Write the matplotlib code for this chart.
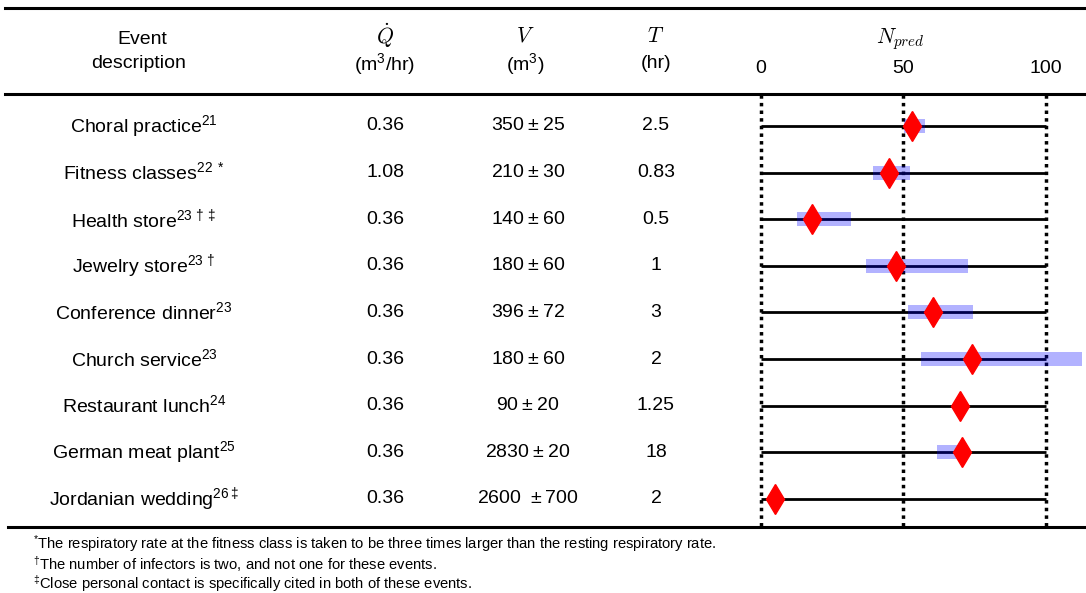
import matplotlib
matplotlib.use('Agg')
import matplotlib.pyplot as plt
from matplotlib.lines import Line2D

plt.rcParams['font.family'] = ['Liberation Sans', 'DejaVu Sans']
plt.rcParams['mathtext.fontset'] = 'custom'
plt.rcParams['mathtext.rm'] = 'Liberation Sans'
plt.rcParams['mathtext.it'] = 'Liberation Sans:italic'

# table data
events = ['Choral practice', 'Fitness classes', 'Health store', 'Jewelry store',
          'Conference dinner', 'Church service', 'Restaurant lunch',
          'German meat plant', 'Jordanian wedding']
refs = [r'21', r'22\ *', r'23\,\dagger\ddagger', r'23\,\dagger', r'23', r'23',
        r'24', r'25', r'26\ddagger']
q_rate = ['0.36', '1.08', '0.36', '0.36', '0.36', '0.36', '0.36', '0.36', '0.36']
vol_mean = ['350', '210', '140', '180', '396', '180', '90', '2830', '2600 ']
vol_err = ['25', '30', '60', '60', '72', '60', '20', '20', '700']
duration = ['2.5', '0.83', '0.5', '1', '3', '2', '1.25', '18', '2']

# predicted number of infections and range
n_pred = [53.2, 45.0, 18.0, 47.5, 60.6, 74.3, 70.1, 70.8, 4.9]
n_low = [50.4, 39.4, 12.7, 37.0, 51.8, 56.3, 70.1, 62.0, 4.2]
n_high = [57.7, 52.5, 31.7, 72.9, 74.6, 112.7, 70.1, 71.0, 5.8]
xticks = [0, 50, 100]

footnotes = [
    r'$^{*}$The respiratory rate at the fitness class is taken to be three times larger than the resting respiratory rate.',
    r'$^{\dagger}$The number of infectors is two, and not one for these events.',
    r'$^{\ddagger}$Close personal contact is specifically cited in both of these events.',
]

W, H = 1086, 593
fig = plt.figure(figsize=(W / 100, H / 100), dpi=100)


def fx(px):
    return px / W


def fy(py):
    return 1 - py / H


# horizontal rules of the table
for yy, x0 in [(8, 5), (94, 5), (527, 8)]:
    fig.add_artist(Line2D([fx(x0), 1.0], [fy(yy), fy(yy)], color='black', lw=2.2,
                          transform=fig.transFigure))

# header
fig.text(fx(142), fy(40), 'Event', ha='center', va='center', fontsize=14)
fig.text(fx(139), fy(64), 'description', ha='center', va='center', fontsize=14)
cols = [(385, r'$\dot{Q}$', r'(m$^3$/hr)'), (525, r'$V$', r'(m$^3$)'), (656, r'$T$', r'(hr)')]
for cx, sym, unit in cols:
    fig.text(fx(cx), fy(36), sym, ha='center', va='center', fontsize=15.5, math_fontfamily='cm')
    fig.text(fx(cx), fy(64), unit, ha='center', va='center', fontsize=14)

row_y = [126 + 46.6 * i for i in range(len(events))]
for i, yy in enumerate(row_y):
    fig.text(fx(144), fy(yy), events[i] + r'$^{' + refs[i] + '}$', ha='center', va='center', fontsize=14)
    fig.text(fx(385), fy(yy), q_rate[i], ha='center', va='center', fontsize=14)
    fig.text(fx(528), fy(yy), vol_mean[i] + r'$\hspace{0.06}\pm\hspace{0.06}$' + vol_err[i],
             ha='center', va='center', fontsize=14)
    fig.text(fx(656), fy(yy), duration[i], ha='center', va='center', fontsize=14)

for k, note in enumerate(footnotes):
    fig.text(fx(33), fy(544 + 20 * k), note, ha='left', va='center', fontsize=10.6)

# N_pred panel
ax = fig.add_axes([fx(740), fy(527), fx(W - 740), fy(94) - fy(527)])
ax.set_xlim(-7.38, 114.2)
ax.set_ylim(8.605, -0.687)
rows = list(range(len(events)))

for xv in xticks:
    ax.plot([xv, xv], [8.58, -0.66], color='black', lw=2.5, linestyle=(0, (1, 1.2)), zorder=1)
ax.hlines(rows, xticks[0], xticks[-1], color='black', lw=2, zorder=2)
ax.barh(rows, [h - l for l, h in zip(n_low, n_high)], left=n_low, height=0.3,
        color='blue', alpha=0.3, lw=0, zorder=3)
ax.plot(n_pred, rows, linestyle='none', marker='d', markersize=15, color='red', zorder=4)

ax.xaxis.tick_top()
ax.set_xticks(xticks)
ax.tick_params(axis='x', length=0, labelsize=14, pad=12)
ax.set_yticks([])
for s in ax.spines.values():
    s.set_visible(False)
ax.text(49, 1 + 55 / 433, r'$N_{pred}$', transform=ax.get_xaxis_transform(),
        ha='center', va='center', fontsize=15.5, math_fontfamily='cm')

fig.savefig('out.png', dpi=100)
